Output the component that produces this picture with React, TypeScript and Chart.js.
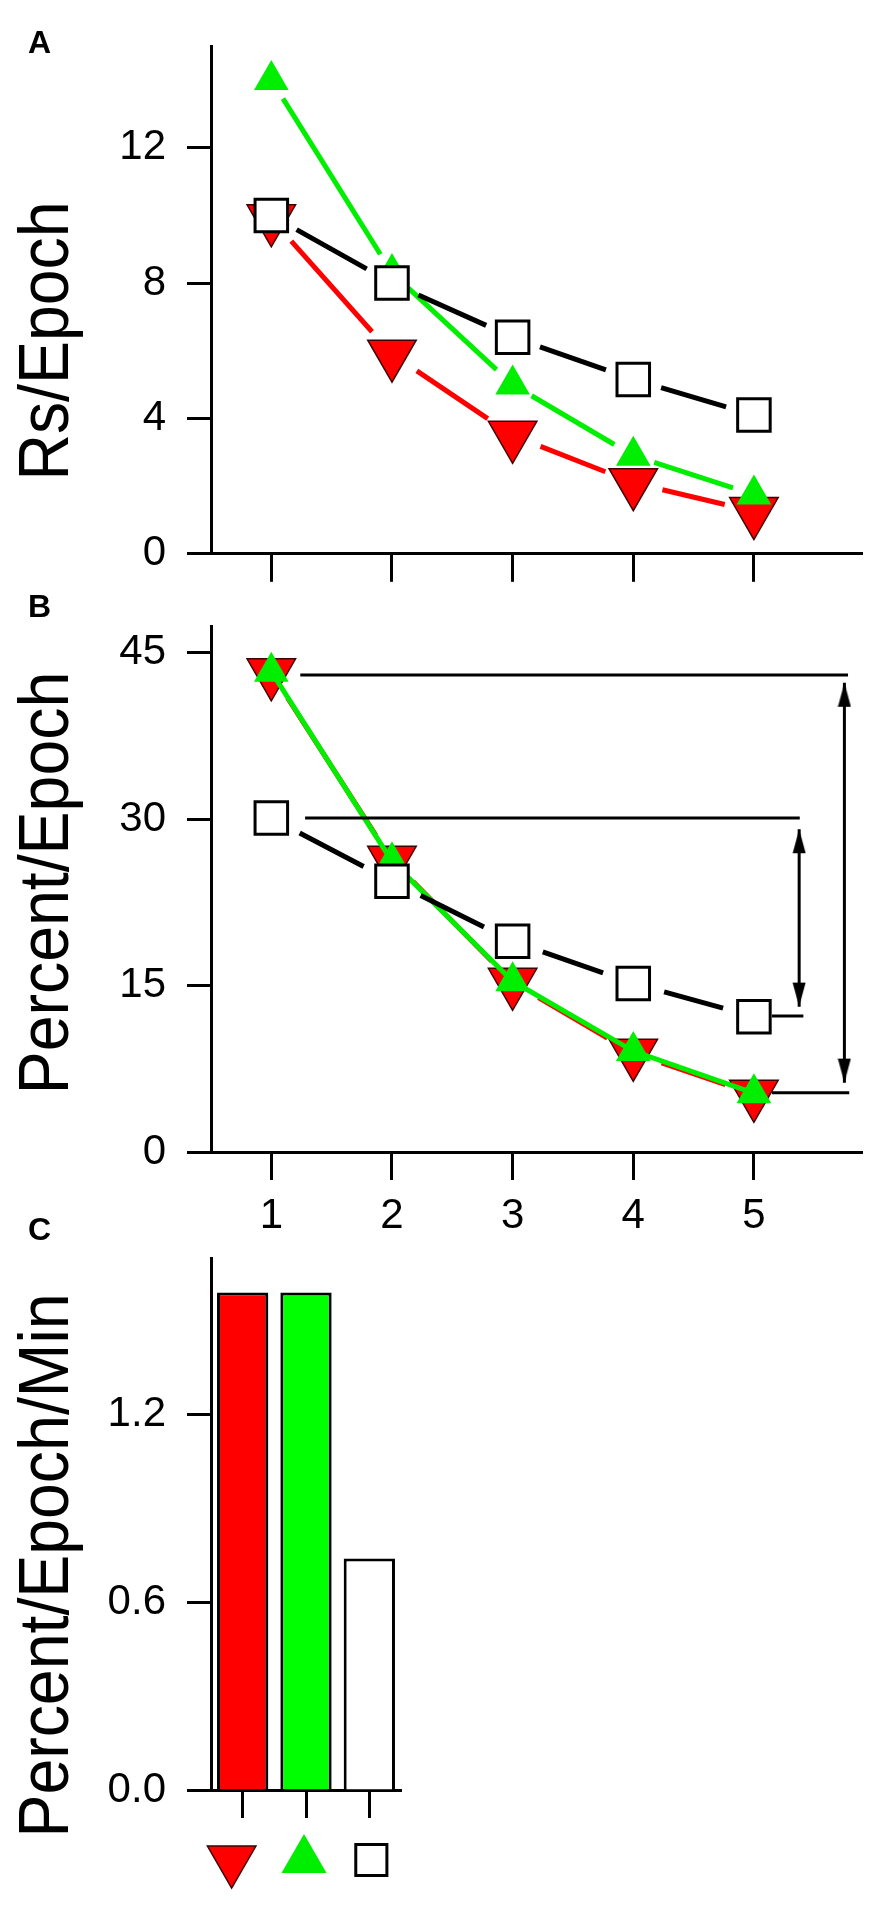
import React, { useEffect, useRef } from "react";
import { Chart, registerables } from "chart.js";
import { drawPoint } from "chart.js/helpers";

Chart.register(...registerables);

const FONT = "'Liberation Sans', Arial, Helvetica, sans-serif";
const RED = "#ff0000";
const GREEN = "#00ee00";
const BLACK = "#000000";

const epochs = [1, 2, 3, 4, 5];

// A: Rs/Epoch
const rsDown = [9.9, 5.9, 3.5, 2.1, 1.25];
const rsUp = [14.0, 8.3, 5.0, 2.9, 1.75];
const rsOpen = [10.0, 8.0, 6.4, 5.15, 4.1];
const rsTicks = [0, 4, 8, 12];

// B: Percent/Epoch
const pctDown = [43.2, 26.3, 15.3, 8.9, 5.2];
const pctUp = [43.3, 26.2, 15.4, 9.1, 5.3];
const pctOpen = [30.1, 24.4, 19.0, 15.2, 12.2];
const pctTicks = [0, 15, 30, 45];

// B: guide lines [xStart, xEnd, y] and double arrows [x, yTop, yBottom]
const guideLines = [
  [1.24, 5.78, 43.0],
  [1.28, 5.38, 30.1],
  [5.15, 5.41, 12.25],
  [5.15, 5.79, 5.35],
];
const spanArrows = [
  [5.375, 29.1, 13.1],
  [5.75, 42.3, 6.25],
];

// C: Percent/Epoch/Min
const groups = ["down", "up", "open"];
const rates = [1.59, 1.59, 0.74];
const rateTicks = [0, 0.6, 1.2];

const downMark = { pointStyle: "triangle", rotation: 180, radius: 28, fill: RED, stroke: "#400000", width: 1.5 };
const upMark = { pointStyle: "triangle", rotation: 0, radius: 20, fill: GREEN, stroke: GREEN, width: 0 };
const openMark = { pointStyle: "rect", rotation: 0, radius: 23, fill: "#ffffff", stroke: BLACK, width: 3 };

const tickFont = { family: FONT, size: 42 };

// line segments stop short of the markers, like the original plot
const segLen = (c: any) => Math.hypot(c.p1.x - c.p0.x, c.p1.y - c.p0.y);
const gapped = (gap: number) => ({
  borderDash: (c: any) => [Math.max(segLen(c) - 2 * gap, 0.1), 2 * gap],
  borderDashOffset: (c: any) => segLen(c) - gap,
});

function series(values: number[], color: string, mark: any, gap: number, order: number) {
  return {
    data: epochs.map((x, i) => ({ x, y: values[i] })),
    borderColor: color,
    borderWidth: 5,
    tension: 0,
    segment: gap > 0 ? gapped(gap) : undefined,
    pointStyle: mark.pointStyle,
    pointRotation: mark.rotation,
    pointRadius: mark.radius,
    pointBackgroundColor: mark.fill,
    pointBorderColor: mark.stroke,
    pointBorderWidth: mark.width,
    order,
    clip: false,
  };
}

function yAxis(max: number, ticks: number[], fmt: (v: number) => string) {
  return {
    type: "linear",
    min: 0,
    max,
    afterBuildTicks: (s: any) => {
      s.ticks = ticks.map((value) => ({ value }));
    },
    afterFit: (s: any) => {
      s.width = 211;
    },
    grid: { drawOnChartArea: false, tickLength: 24, tickWidth: 3, tickColor: BLACK },
    border: { color: BLACK, width: 3 },
    ticks: { color: BLACK, font: tickFont, padding: 21, callback: (v: any) => fmt(Number(v)) },
  };
}

function epochAxis(height: number, labels: boolean) {
  return {
    type: "linear",
    min: 0.5,
    max: 5.9,
    afterBuildTicks: (s: any) => {
      s.ticks = epochs.map((value) => ({ value }));
    },
    afterFit: (s: any) => {
      s.height = height;
    },
    grid: { drawOnChartArea: false, tickLength: 28, tickWidth: 3, tickColor: BLACK },
    border: { color: BLACK, width: 3 },
    ticks: { display: labels, color: BLACK, font: tickFont, padding: 11, callback: (v: any) => String(v) },
  };
}

// panel letter and the rotated y title
function panelDecor(letter: string, letterY: number, title: string, titleY: number) {
  return {
    id: "panelDecor",
    afterDraw(chart: any) {
      const { ctx } = chart;
      ctx.save();
      ctx.fillStyle = BLACK;
      ctx.textBaseline = "alphabetic";
      ctx.textAlign = "left";
      ctx.font = `bold 32px ${FONT}`;
      ctx.fillText(letter, 28, letterY);
      ctx.translate(68, titleY);
      ctx.rotate(-Math.PI / 2);
      ctx.scale(0.92, 1);
      ctx.font = `70px ${FONT}`;
      ctx.textAlign = "center";
      ctx.fillText(title, 0, 0);
      ctx.restore();
    },
  };
}

function makeArrowHead() {
  const c = document.createElement("canvas");
  c.width = 14;
  c.height = 50;
  const g = c.getContext("2d")!;
  g.fillStyle = BLACK;
  g.beginPath();
  g.moveTo(7, 25);
  g.lineTo(13.5, 49);
  g.lineTo(0.5, 49);
  g.closePath();
  g.fill();
  return c;
}

const baseOptions = (padding: any) => ({
  animation: false,
  responsive: true,
  maintainAspectRatio: false,
  events: [],
  layout: { padding },
  plugins: { legend: { display: false }, tooltip: { enabled: false } },
});

const buildA = () => ({
  type: "line",
  data: {
    datasets: [
      series(rsDown, RED, downMark, 30, 3),
      series(rsUp, GREEN, upMark, 22, 2),
      series(rsOpen, BLACK, openMark, 29, 1),
    ],
  },
  options: {
    ...baseOptions({ top: 32, right: 22, bottom: 0, left: 0 }),
    scales: { x: epochAxis(600 - 563, false), y: yAxis(15, rsTicks, (v) => String(v)) },
  },
  plugins: [panelDecor("A", 53, "Rs/Epoch", 341)],
});

const buildB = () => {
  const head = makeArrowHead();
  return {
    type: "line",
    data: {
      datasets: [
        series(pctDown, RED, downMark, 30, 3),
        series(pctUp, GREEN, upMark, 0, 2),
        series(pctOpen, BLACK, openMark, 32, 1),
        ...guideLines.map(([x0, x1, y]) => ({
          data: [
            { x: x0, y },
            { x: x1, y },
          ],
          borderColor: BLACK,
          borderWidth: 3,
          pointRadius: 0,
          order: 0,
        })),
        ...spanArrows.map(([x, y0, y1]) => ({
          data: [
            { x, y: y0 },
            { x, y: y1 },
          ],
          borderColor: BLACK,
          borderWidth: 3,
          pointStyle: head,
          pointRadius: 6,
          pointRotation: [0, 180],
          order: 0,
        })),
      ],
    },
    options: {
      ...baseOptions({ top: 40, right: 22, bottom: 0, left: 0 }),
      scales: { x: epochAxis(1240 - 1152, true), y: yAxis(47.4, pctTicks, (v) => String(v)) },
    },
    plugins: [panelDecor("B", 37, "Percent/Epoch", 303)],
  };
};

const groupMarks = [downMark, { ...upMark, radius: 26 }, { ...openMark, radius: 22 }];
const groupShift = [-11, -2, 2];

const groupMarkers = {
  id: "groupMarkers",
  afterDraw(chart: any) {
    const { ctx } = chart;
    const scale = chart.scales.x;
    groups.forEach((_, i) => {
      const m: any = groupMarks[i];
      ctx.save();
      ctx.fillStyle = m.fill;
      ctx.strokeStyle = m.stroke;
      ctx.lineWidth = m.width;
      drawPoint(
        ctx,
        { pointStyle: m.pointStyle, rotation: m.rotation, radius: m.radius, borderWidth: m.width } as any,
        scale.getPixelForTick(i) + groupShift[i],
        chart.chartArea.bottom + 70
      );
      ctx.restore();
    });
  },
};

const buildC = () => ({
  type: "bar",
  data: {
    labels: groups,
    datasets: [
      {
        data: rates,
        backgroundColor: [RED, "#00ff00", "#ffffff"],
        borderColor: BLACK,
        borderWidth: 3,
        barPercentage: 0.81,
        categoryPercentage: 1,
      },
    ],
  },
  options: {
    ...baseOptions({ top: 58, right: 491, bottom: 0, left: 0 }),
    scales: {
      x: {
        type: "category",
        offset: true,
        afterFit: (s: any) => {
          s.height = 707 - 590;
        },
        grid: { offset: false, drawOnChartArea: false, tickLength: 28, tickWidth: 3, tickColor: BLACK },
        border: { color: BLACK, width: 3 },
        ticks: { display: false },
      },
      y: yAxis(1.7, rateTicks, (v) => v.toFixed(1)),
    },
  },
  plugins: [panelDecor("C", 40, "Percent/Epoch/Min", 365.5), groupMarkers],
});

function Panel({ top, height, build }: { top: number; height: number; build: () => any }) {
  const ref = useRef<HTMLCanvasElement>(null);
  useEffect(() => {
    if (!ref.current) return;
    const chart = new Chart(ref.current, build());
    return () => chart.destroy();
  }, []);
  return (
    <div style={{ position: "absolute", left: 0, top, width: 892, height }}>
      <canvas ref={ref} />
    </div>
  );
}

export default function App() {
  return (
    <div style={{ position: "absolute", left: 0, top: 0, width: 892, height: 1907, background: "#fff" }}>
      <Panel top={0} height={600} build={buildA} />
      <Panel top={580} height={660} build={buildB} />
      <Panel top={1200} height={707} build={buildC} />
    </div>
  );
}
